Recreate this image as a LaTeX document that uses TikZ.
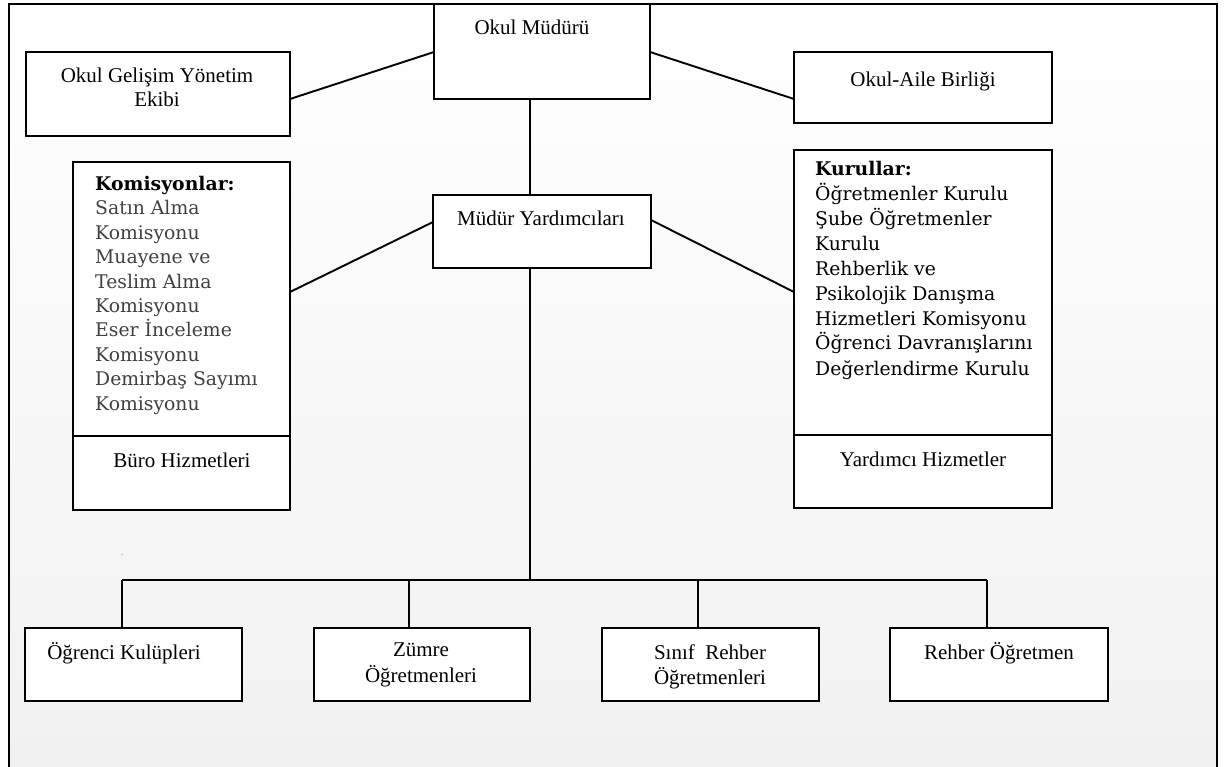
\documentclass[tikz,border=0pt]{standalone}
\usepackage{fontspec}
\setmainfont{Liberation Serif}
\newfontfamily\geo{DejaVu Serif}
\usetikzlibrary{calc}
\definecolor{bgbottom}{RGB}{241,241,241}
\tikzset{
  boxst/.style={draw=black, fill=white, line width=1.9pt, inner sep=0pt, outer sep=0pt, anchor=north west},
  conn/.style={draw=black, line width=1.9pt},
  tnr/.style={font=\fontsize{21}{25}\selectfont, inner sep=0pt, align=center, anchor=base},
  geolist/.style={font=\geo\fontsize{18.8}{24.4}\selectfont, inner sep=0pt, align=left, anchor=base west},
}
\begin{document}
\begin{tikzpicture}[x=1pt,y=-1pt]
\useasboundingbox (0,0) rectangle (1224,767);
% background and frame
\shade[top color=white, bottom color=bgbottom] (9,4) rectangle (1217,767);
\draw[line width=2.2pt] (9,770) -- (9,4) -- (1217,4) -- (1217,770);
% boxes
\node[boxst, minimum width=216pt, minimum height=95pt] (mudur) at (434,4) {};
\node[boxst, minimum width=264pt, minimum height=84pt] (gelisim) at (26,52) {};
\node[boxst, minimum width=258pt, minimum height=71pt] (aile) at (794,52) {};
\node[boxst, minimum width=218pt, minimum height=73pt] (my) at (433,195) {};
\node[boxst, minimum width=217pt, minimum height=274pt] (kom) at (73,162) {};
\node[boxst, minimum width=217pt, minimum height=74pt] (buro) at (73,436) {};
\node[boxst, minimum width=258pt, minimum height=285pt] (kur) at (794,150) {};
\node[boxst, minimum width=258pt, minimum height=73pt] (yard) at (794,435) {};
\node[boxst, minimum width=217pt, minimum height=73pt] (ogr) at (25,628) {};
\node[boxst, minimum width=216pt, minimum height=73pt] (zum) at (314,628) {};
\node[boxst, minimum width=217pt, minimum height=73pt] (sin) at (602,628) {};
\node[boxst, minimum width=218pt, minimum height=73pt] (reh) at (890,628) {};
% connectors
\draw[conn] ($(gelisim.north east)+(0,47)$) -- ($(mudur.north west)+(0,48)$);
\draw[conn] ($(mudur.north east)+(0,48)$) -- ($(aile.north west)+(0,47)$);
\draw[conn] ($(mudur.south)+(-12,0)$) -- ($(my.north)+(-12,0)$);
\draw[conn] ($(my.north west)+(0,27)$) -- ($(kom.north east)+(0,130)$);
\draw[conn] ($(my.north east)+(0,25)$) -- ($(kur.north west)+(0,142)$);
\coordinate (j) at (530,580);
\coordinate (b1) at (122,580);
\coordinate (b2) at (409,580);
\coordinate (b3) at (698,580);
\coordinate (b4) at (987,580);
\draw[conn] ($(my.south)+(-12,0)$) -- (j);
\draw[conn] (b1) -- (b4);
\draw[conn] (b1) -- (b1 |- ogr.north);
\draw[conn] (b2) -- (b2 |- zum.north);
\draw[conn] (b3) -- (b3 |- sin.north);
\draw[conn] (b4) -- (b4 |- reh.north);
% texts (multi-line nodes: base anchor = last line baseline)
\node[tnr] (t-mudur) at (532,35) {Okul Müdürü};
\node[tnr, font=\fontsize{21}{24}\selectfont] (t-gelisim) at (157,107) {Okul Gelişim Yönetim\\Ekibi};
\node[tnr] (t-aile) at (923,87) {Okul-Aile Birliği};
\node[tnr] (t-my) at (541,226) {Müdür Yardımcıları};
\node[geolist, text=black!75] (t-kom) at (95,410) {{\bfseries\color{black}Komisyonlar:}\\Satın Alma\\Komisyonu\\Muayene ve\\Teslim Alma\\Komisyonu\\Eser İnceleme\\Komisyonu\\Demirbaş Sayımı\\Komisyonu};
\node[tnr] (t-buro) at (182,467) {Büro Hizmetleri};
\node[geolist, font=\geo\fontsize{18.8}{25}\selectfont] (t-kur) at (815,375) {\textbf{Kurullar:}\\Öğretmenler Kurulu\\Şube Öğretmenler\\Kurulu\\Rehberlik ve\\Psikolojik Danışma\\Hizmetleri Komisyonu\\Öğrenci Davranışlarını\\Değerlendirme Kurulu};
\node[tnr] (t-yard) at (923,466) {Yardımcı Hizmetler};
\node[tnr] (t-ogr) at (124,659) {Öğrenci Kulüpleri};
\node[tnr, font=\fontsize{21}{26}\selectfont] (t-zum) at (421,682) {Zümre\\Öğretmenleri};
\node[tnr, font=\fontsize{21}{25}\selectfont] (t-sin) at (710,684) {Sınıf\ \ Rehber\\Öğretmenleri};
\node[tnr] (t-reh) at (999,659) {Rehber Öğretmen};
\node[inner sep=0pt, font=\fontsize{6}{6}\selectfont] (dot) at (122,555) {.};
\end{tikzpicture}
\end{document}
